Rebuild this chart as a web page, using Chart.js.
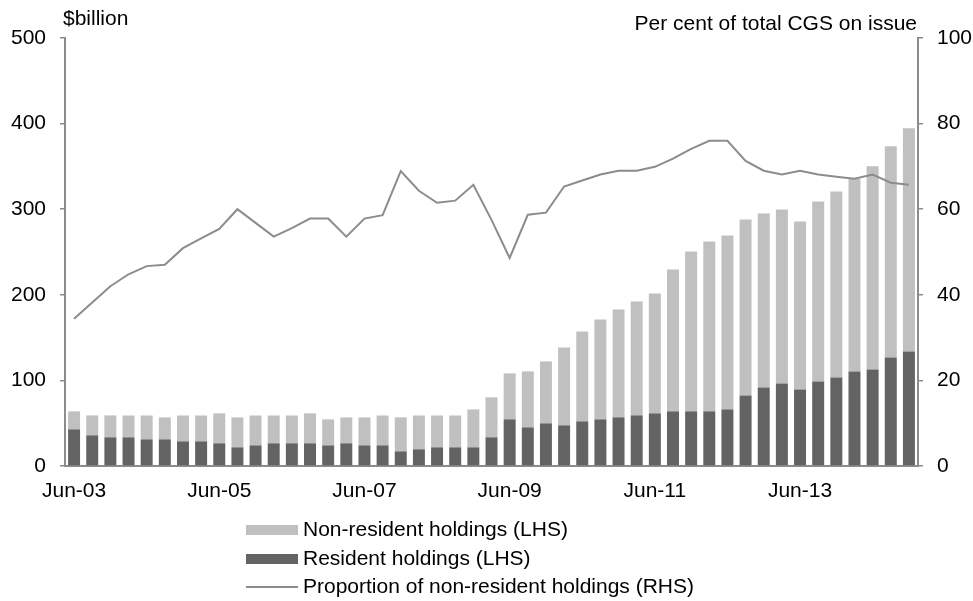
<!DOCTYPE html>
<html>
<head>
<meta charset="utf-8">
<script src="https://cdn.jsdelivr.net/npm/chart.js@4/dist/chart.umd.min.js"></script>
<style>
  html, body { margin: 0; padding: 0; background: #ffffff; }
  #wrap { width: 973px; height: 601px; position: relative; }
</style>
</head>
<body>
<div id="wrap"><canvas id="chart" width="973" height="601"></canvas></div>
<script>
// quarterly, Jun-03 to Dec-14
const quarters = [
  'Jun-03','Sep-03','Dec-03',
  'Mar-04','Jun-04','Sep-04','Dec-04',
  'Mar-05','Jun-05','Sep-05','Dec-05',
  'Mar-06','Jun-06','Sep-06','Dec-06',
  'Mar-07','Jun-07','Sep-07','Dec-07',
  'Mar-08','Jun-08','Sep-08','Dec-08',
  'Mar-09','Jun-09','Sep-09','Dec-09',
  'Mar-10','Jun-10','Sep-10','Dec-10',
  'Mar-11','Jun-11','Sep-11','Dec-11',
  'Mar-12','Jun-12','Sep-12','Dec-12',
  'Mar-13','Jun-13','Sep-13','Dec-13',
  'Mar-14','Jun-14','Sep-14','Dec-14'
];

// $billion (LHS)
const residentHoldings = [
  42.8, 35.8, 33.5, 33.5, 31.1, 31.1, 28.8, 28.8, 26.5, 21.8,
  24.1, 26.5, 26.5, 26.5, 24.1, 26.5, 24.1, 24.1, 17.1, 19.5,
  21.8, 21.8, 21.8, 33.5, 54.5, 45.1, 49.8, 47.5, 52.1, 54.5,
  56.8, 59.1, 61.5, 63.8, 63.8, 63.8, 66.1, 82.5, 91.8, 96.5,
  89.5, 98.8, 103.5, 110.5, 112.8, 126.8, 133.9
];
const nonResidentHoldings = [
  21.0, 23.3, 25.6, 25.5, 27.9, 25.7, 30.2, 30.2, 35.0, 35.0,
  34.9, 32.5, 32.5, 35.0, 30.4, 30.3, 32.7, 34.9, 39.7, 39.5,
  37.2, 37.2, 44.3, 46.7, 53.7, 65.4, 72.4, 91.0, 105.1, 116.7,
  126.1, 133.1, 140.1, 165.8, 186.8, 198.5, 203.2, 205.4, 203.1, 203.1,
  196.1, 210.2, 217.1, 224.9, 237.4, 246.7, 260.7
];

// per cent of total CGS on issue (RHS)
const nonResidentShare = [
  34.4, 38.2, 42.0, 44.8, 46.7, 47.0, 50.9, 53.2, 55.4, 60.0,
  56.8, 53.6, 55.6, 57.8, 57.8, 53.6, 57.8, 58.6, 68.9, 64.3,
  61.5, 62.0, 65.7, 57.5, 48.6, 58.7, 59.2, 65.3, 66.7, 68.1,
  69.0, 69.0, 69.9, 71.8, 74.1, 76.0, 76.0, 71.3, 69.0, 68.1,
  69.0, 68.1, 67.6, 67.1, 68.1, 66.2, 65.7
];

const LIGHT = '#c0c0c0';
const DARK = '#636363';
const LINE = '#8c8c8c';
const AXIS = '#8c8c8c';
const FONT = "'Liberation Sans', Arial, sans-serif";
const SIZE = 21;

// axis titles + vertical legend, drawn on the canvas
const extras = {
  id: 'extras',
  afterDraw(chart) {
    const ctx = chart.ctx;
    const area = chart.chartArea;
    ctx.save();
    ctx.fillStyle = '#000';
    ctx.font = SIZE + 'px ' + FONT;
    ctx.textBaseline = 'middle';
    ctx.textAlign = 'left';
    ctx.fillText('$billion', area.left - 2, 19);
    ctx.textAlign = 'right';
    ctx.fillText('Per cent of total CGS on issue', area.right - 1, 24);

    // legend
    const items = [
      { text: 'Non-resident holdings (LHS)', type: 'box', color: LIGHT, y: 530 },
      { text: 'Resident holdings (LHS)', type: 'box', color: DARK, y: 559 },
      { text: 'Proportion of non-resident holdings (RHS)', type: 'line', color: LINE, y: 587 }
    ];
    ctx.textAlign = 'left';
    items.forEach(it => {
      if (it.type === 'box') {
        ctx.fillStyle = it.color;
        ctx.fillRect(246, it.y - 5, 52, 10);
      } else {
        ctx.strokeStyle = it.color;
        ctx.lineWidth = 2;
        ctx.beginPath();
        ctx.moveTo(246, it.y);
        ctx.lineTo(298, it.y);
        ctx.stroke();
      }
      ctx.fillStyle = '#000';
      ctx.fillText(it.text, 303, it.y);
    });
    ctx.restore();
  }
};

new Chart(document.getElementById('chart'), {
  data: {
    labels: quarters,
    datasets: [
      {
        type: 'line',
        label: 'Proportion of non-resident holdings (RHS)',
        data: nonResidentShare,
        yAxisID: 'y1',
        borderColor: LINE,
        borderWidth: 2,
        pointRadius: 0,
        tension: 0,
        order: 0
      },
      {
        type: 'bar',
        label: 'Resident holdings (LHS)',
        data: residentHoldings,
        yAxisID: 'y',
        backgroundColor: DARK,
        stack: 'h',
        order: 1
      },
      {
        type: 'bar',
        label: 'Non-resident holdings (LHS)',
        data: nonResidentHoldings,
        yAxisID: 'y',
        backgroundColor: LIGHT,
        stack: 'h',
        order: 1
      }
    ]
  },
  options: {
    responsive: false,
    animation: false,
    layout: { padding: { top: 38, bottom: 95, left: 0, right: 0 } },
    datasets: { bar: { barPercentage: 1, categoryPercentage: 0.66 } },
    plugins: {
      legend: { display: false },
      tooltip: { enabled: false }
    },
    scales: {
      x: {
        stacked: true,
        grid: { display: false, drawTicks: false },
        border: { color: AXIS, width: 2 },
        ticks: {
          autoSkip: false,
          maxRotation: 0,
          padding: 13,
          color: '#000',
          font: { family: FONT, size: SIZE },
          callback: (v, i) => (i % 8 === 0 ? quarters[i] : '')
        },
        afterFit: s => { s.height = 40; }
      },
      y: {
        position: 'left',
        stacked: true,
        min: 0,
        max: 500,
        ticks: { stepSize: 100, padding: 14, color: '#000', font: { family: FONT, size: SIZE } },
        grid: { drawOnChartArea: false, tickLength: 5, color: AXIS, lineWidth: 1.5 },
        border: { color: AXIS, width: 2 },
        afterFit: s => { s.width = 65; }
      },
      y1: {
        position: 'right',
        min: 0,
        max: 100,
        ticks: { stepSize: 20, padding: 14, color: '#000', font: { family: FONT, size: SIZE } },
        grid: { drawOnChartArea: false, tickLength: 5, color: AXIS, lineWidth: 1.5 },
        border: { color: AXIS, width: 2 },
        afterFit: s => { s.width = 55; }
      }
    }
  },
  plugins: [extras]
});
</script>
</body>
</html>
